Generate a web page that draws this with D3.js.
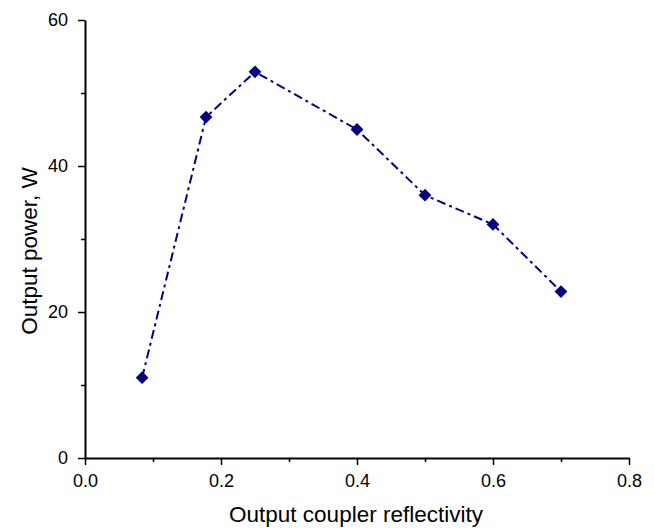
<!DOCTYPE html>
<html>
<head>
<meta charset="utf-8">
<script src="https://cdn.jsdelivr.net/npm/d3@7"></script>
<style>
  body { margin: 0; background: #fff; }
  text { font-family: "Liberation Sans", Arial, sans-serif; fill: #000; }
</style>
</head>
<body>
<script>
var width = 654, height = 528;
var margin = {top: 20, right: 25, bottom: 70, left: 85};

// data
var reflectivity = [0.084, 0.178, 0.25, 0.4, 0.5, 0.6, 0.7];
var power = [11, 46.7, 52.9, 45, 36, 32, 22.8];
var xTicks = [0, 0.2, 0.4, 0.6, 0.8];
var xMinor = [0.1, 0.3, 0.5, 0.7];
var yTicks = [0, 20, 40, 60];
var yMinor = [10, 30, 50];

var svg = d3.select('body').append('svg')
  .attr('width', width)
  .attr('height', height);

var x = d3.scaleLinear().domain([0, 0.8]).range([margin.left, 629]);
var y = d3.scaleLinear().domain([0, 60]).range([458, margin.top]);

// minor ticks first, then major axis on top
svg.append('g')
  .attr('transform', 'translate(0,458)')
  .call(d3.axisBottom(x).tickValues(xMinor).tickSize(4).tickFormat(''))
  .call(function(g){ g.select('.domain').remove() })
  .selectAll('line').attr('stroke-width', 1.5);

svg.append('g')
  .attr('transform', 'translate(85,0)')
  .call(d3.axisLeft(y).tickValues(yMinor).tickSize(4).tickFormat(''))
  .call(function(g){ g.select('.domain').remove() })
  .selectAll('line').attr('stroke-width', 1.5);

var xAxis = svg.append('g')
  .attr('transform', 'translate(0,458)')
  .call(d3.axisBottom(x).tickValues(xTicks).tickSize(7).tickSizeOuter(0).tickFormat(d3.format('.1f')));
xAxis.select('.domain').attr('stroke-width', 2);
xAxis.selectAll('line').attr('stroke-width', 1.5);
xAxis.selectAll('text').style('font-size', '18px').attr('dy', null).attr('y', 29);

var yAxis = svg.append('g')
  .attr('transform', 'translate(85,0)')
  .call(d3.axisLeft(y).tickValues(yTicks).tickSize(7).tickSizeOuter(0).tickFormat(d3.format('d')));
yAxis.select('.domain').attr('stroke-width', 2);
yAxis.selectAll('line').attr('stroke-width', 1.5);
yAxis.selectAll('text').style('font-size', '18px').attr('x', -17);

svg.selectAll('.domain').attr('stroke', '#000');

// axis titles
svg.append('text')
  .attr('x', 356).attr('y', 522)
  .attr('text-anchor', 'middle')
  .style('font-size', '22.5px')
  .text('Output coupler reflectivity');

svg.append('text')
  .attr('transform', 'translate(37,251) rotate(-90)')
  .attr('text-anchor', 'middle')
  .style('font-size', '22.5px')
  .text('Output power, W');

// series
var pts = reflectivity.map(function(r, i){ return [r, power[i]] });

svg.append('path')
  .datum(pts)
  .attr('fill', 'none')
  .attr('stroke', '#000080')
  .attr('stroke-width', 2)
  .attr('stroke-dasharray', '9,4,3,4')
  .attr('d', d3.line().x(function(d){ return x(d[0]) }).y(function(d){ return y(d[1]) }));

svg.selectAll('.pt')
  .data(pts)
  .enter()
  .append('path')
  .attr('class', 'pt')
  .attr('transform', function(d){ return 'translate(' + x(d[0]) + ',' + y(d[1]) + ')' })
  .attr('d', d3.symbol().type(d3.symbolDiamond2).size(105))
  .attr('fill', '#000080');
</script>
</body>
</html>
